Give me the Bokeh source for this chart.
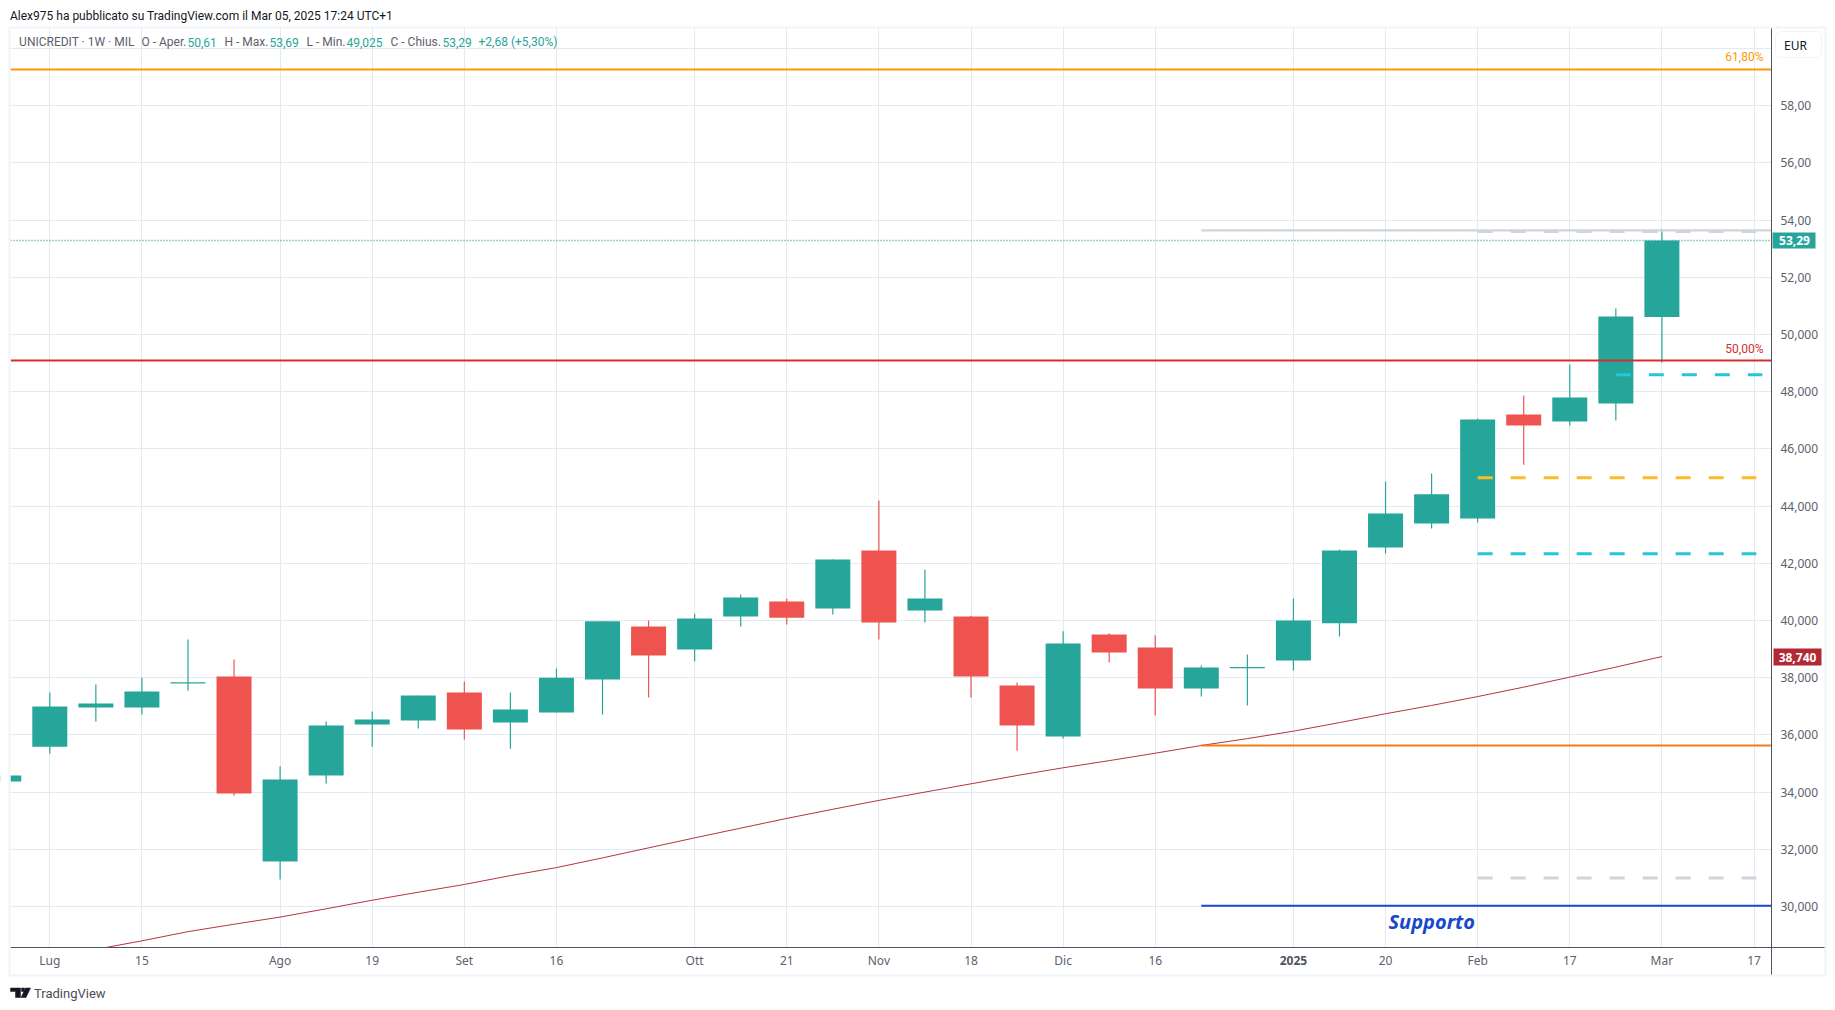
from bokeh.plotting import figure
from bokeh.embed import file_html
from bokeh.resources import INLINE
from bokeh.models import (ColumnDataSource, FixedTicker, Label, BoxAnnotation,
                          PolyAnnotation, Range1d)

# ---------- data ----------
opens  = [34.37,35.59,36.96,36.96,37.80,38.04,31.57,34.58,36.36,36.50,37.48,36.43,36.78,37.94,
          39.79,38.99,40.14,40.66,40.42,42.45,40.35,40.14,37.73,35.94,39.51,39.06,37.62,38.33,
          38.60,39.90,42.55,43.39,43.57,47.20,46.96,47.59,50.61]
closes = [34.58,36.99,37.10,37.52,37.84,33.95,34.44,36.33,36.54,37.38,36.19,36.89,38.00,39.97,
          38.78,40.07,40.80,40.10,42.13,39.93,40.77,38.04,36.33,39.20,38.88,37.62,38.36,38.37,
          40.00,42.45,43.74,44.41,47.03,46.82,47.80,50.63,53.29]
highs  = [34.58,37.48,37.76,38.00,39.34,38.64,34.90,36.47,36.82,37.38,37.87,37.48,38.32,39.97,
          40.00,40.24,40.91,40.77,42.13,44.20,41.78,40.17,37.83,39.62,39.55,39.48,38.43,38.81,
          40.77,42.48,44.86,45.14,47.06,47.87,48.95,50.91,53.69]
lows   = [34.37,35.35,36.47,36.71,37.55,33.88,30.94,34.30,35.59,36.22,35.84,35.52,36.78,36.71,
          37.31,38.57,39.79,39.86,40.21,39.34,39.93,37.31,35.45,35.87,38.53,36.68,37.34,37.03,
          38.25,39.44,42.34,43.22,43.43,45.45,46.82,46.99,49.025]
ma_line = [28.0,28.2,28.50,28.80,29.12,29.38,29.63,29.92,30.22,30.50,30.77,31.08,31.36,31.70,
           32.05,32.40,32.74,33.08,33.40,33.71,34.00,34.29,34.58,34.85,35.10,35.36,35.63,35.87,
           36.13,36.43,36.74,37.03,37.34,37.67,38.02,38.37,38.74]

x_tick_pos    = [1,3,6,8,10,12,15,17,19,21,23,25,30,32,34,36,38]
x_tick_labels = ["Lug","15","Ago","19","Set","16","Ott","21","Nov","18","Dic","16","20","Feb","17","Mar","17"]
year_tick_pos = 28
year_tick_label = "2025"
y_ticks = [30,32,34,36,38,40,42,44,46,48,50,52,54,56,58,60]
y_tick_labels = ["30,000","32,000","34,000","36,000","38,000","40,000","42,000","44,000","46,000",
                 "48,000","50,000","52,00","54,00","56,00","58,00",""]

fib_618 = 59.27
fib_500 = 49.09
resist_level = 53.64
support_level = 30.03
orange_level = 35.63
last_price = 53.29
ma_last = 38.74
dashed_levels = [53.60, 44.99, 42.33, 31.00, 48.59]
dashed_starts = [32, 32, 32, 32, 35]
dashed_ends   = [38.05, 38.05, 38.05, 38.05, 38.18]
dashed_colors = ["#d1d4dc", "#fbbc28", "#26c6da", "#d1d4dc", "#26c6da"]

GREEN, RED = "#26a69a", "#ef5350"
FONT = "Noto Sans"
HFONT = "Roboto"
PX0, PXS = 3.24, 46.06
def ix(px): return (px - PX0) / PXS
def vy(py): return 30 + (906 - py) / 28.6

W, H = 1830, 1005
L, T, R_, B = 10, 27, 1771, 947
p = figure(width=W, height=H, output_backend="svg", toolbar_location=None,
           x_range=Range1d(ix(0), ix(W)), y_range=Range1d(vy(H), vy(0)),
           y_axis_location="right", min_border=0, min_border_left=0, min_border_top=0,
           min_border_right=0, min_border_bottom=0)
p.outline_line_color = None
p.background_fill_color = "white"
p.border_fill_color = "white"

# axes and grids
all_ticks = sorted(x_tick_pos + [year_tick_pos])
p.xaxis.ticker = FixedTicker(ticks=all_ticks)
over = {a: b for a, b in zip(x_tick_pos, x_tick_labels)}
over[year_tick_pos] = ""
p.xaxis.major_label_overrides = over
p.yaxis.ticker = FixedTicker(ticks=y_ticks)
p.yaxis.major_label_overrides = dict(zip(y_ticks, y_tick_labels))
for ax in (p.xaxis[0], p.yaxis[0]):
    ax.level = "overlay"
    ax.major_tick_line_color = None
    ax.minor_tick_line_color = None
    ax.major_tick_out = 0
    ax.major_tick_in = 0
    ax.minor_tick_out = 0
    ax.axis_line_color = "#50535e"
    ax.axis_line_width = 1
    ax.major_label_text_color = "#5d606b"
    ax.major_label_text_font = FONT
    ax.major_label_text_font_size = "12px"
p.xaxis[0].fixed_location = vy(B)
p.yaxis[0].fixed_location = ix(R_)
p.xaxis[0].bounds = (ix(L), ix(1825))
p.yaxis[0].bounds = (vy(975), vy(T))
p.xaxis[0].major_label_standoff = 4
p.yaxis[0].major_label_standoff = 9
p.xgrid.ticker = FixedTicker(ticks=all_ticks)
p.ygrid.ticker = FixedTicker(ticks=y_ticks)
for g in (p.xgrid[0], p.ygrid[0]):
    g.grid_line_color = "#e2ebf1"
    g.grid_line_width = 1

# candles
idx = list(range(len(opens)))
colors = [GREEN if c >= o else RED for o, c in zip(opens, closes)]
src = ColumnDataSource(dict(x=idx, top=[max(a, b) for a, b in zip(opens, closes)],
                            bottom=[min(a, b) for a, b in zip(opens, closes)],
                            h=highs, l=lows, c=colors))
p.segment("x", "h", "x", "l", source=src, line_color="c", line_width=1.2)
p.vbar("x", width=35 / PXS, top="top", bottom="bottom", source=src,
       fill_color="c", line_color=None)

# moving average
p.line(idx, ma_line, line_color="#b22833", line_width=0.95)

# levels
x_l, x_r = ix(L), ix(R_)
p.line([x_l, x_r], [last_price, last_price], line_color=GREEN, line_width=1.5, line_dash=[1, 2])
p.line([x_l, x_r], [fib_618, fib_618], line_color="#ff9800", line_width=2)
p.line([x_l, x_r], [fib_500, fib_500], line_color="#d32f2f", line_width=2)
p.line([26, x_r], [resist_level, resist_level], line_color="#d1d4dc", line_width=2.2)
p.line([26, x_r], [orange_level, orange_level], line_color="#f57c17", line_width=2)
p.line([26, x_r], [support_level, support_level], line_color="#1848cc", line_width=2)
for lv, s, e, c in zip(dashed_levels, dashed_starts, dashed_ends, dashed_colors):
    p.line([s, e], [lv, lv], line_color=c, line_width=3, line_dash=[15, 18])

def txt(px, py, s, color="#5d606b", size="12px", align="left", style="normal", font=FONT):
    p.add_layout(Label(x=px, y=py, x_units="canvas", y_units="canvas", text=s, level="overlay",
                       text_color=color, text_font=font, text_font_size=size,
                       text_font_style=style, text_align=align, text_baseline="middle"))

def box(x0, y0, x1, y1, fill=None, line=None, lw=1, level="overlay", **kw):
    p.add_layout(BoxAnnotation(left=x0, right=x1, top=y0, bottom=y1,
                               left_units="canvas", right_units="canvas",
                               top_units="canvas", bottom_units="canvas",
                               fill_color=fill if fill else "white", fill_alpha=1 if fill else 0,
                               line_color=line if line else "white", line_width=lw,
                               line_alpha=1 if line else 0, level=level, **kw))

# white masks around the plot area, under the axes and the texts
box(0, 0, L, H, "white", level="annotation")
box(0, 0, W, T, "white", level="annotation")
box(R_, 0, W, H, "white", level="annotation")
box(0, B, W, H, "white", level="annotation")

# frame decoration
box(9, 27, 1825, 975, None, "#f0f3fa", 2)

# header
txt(9.5, 15, "Alex975 ha pubblicato su TradingView.com il Mar 05, 2025 17:24 UTC+1", "#131722",
    "12px", font=HFONT)
header = [(18.6, "UNICREDIT · 1W · MIL", 0), (141, "O - Aper.", 0), (187, "50,61", 1),
          (224, "H - Max.", 0), (269, "53,69", 1), (306, "L - Min.", 0), (346, "49,025", 1),
          (390, "C - Chius.", 0), (442, "53,29", 1), (478, "+2,68 (+5,30%)", 1)]
for hx, s, g in header:
    txt(hx, 41.7, s, GREEN if g else "#5d606b", "12px", font=HFONT)

# level labels
txt(1763, 56, "61,80%", "#ff9800", "12px", align="right", font=HFONT)
txt(1763, 348, "50,00%", "#d32f2f", "12px", align="right", font=HFONT)

# Supporto
p.add_layout(Label(x=ix(1388), y=support_level - 0.57, text="Supporto", text_color="#1848cc",
                   level="overlay", text_font=FONT, text_font_size="20px",
                   text_font_style="bold italic", text_baseline="middle"))

# bold year on the time axis
p.add_layout(Label(x=year_tick_pos, y=960, y_units="canvas", text=year_tick_label, level="overlay",
                   text_color="#50535e", text_font=FONT, text_font_size="12px",
                   text_font_style="bold", text_align="center", text_baseline="middle"))

# price tags
box(1772, 232, 1815, 248, GREEN)
txt(1794, 240.3, "53,29", "white", style="bold", align="center")
box(1773, 648, 1821, 665, "#b22833")
txt(1797, 656.5, "38,740", "white", style="bold", align="center")

# EUR button
box(1775, 31, 1821, 57, "white", "#f0f3fa", 1, border_radius=5)
txt(1795, 44.5, "EUR", "#131722", align="center")

# footer
def poly(xs, ys, color="#131722"):
    p.add_layout(PolyAnnotation(xs=xs, ys=ys, xs_units="canvas", ys_units="canvas", level="overlay",
                                fill_color=color, fill_alpha=1, line_color=color, line_alpha=1,
                                line_width=0.5))
poly([10, 20, 20, 15, 15, 10], [987.5, 987.5, 997, 997, 991, 991])
poly([21, 24, 24, 21], [987.5, 987.5, 991, 991])
poly([25, 30, 25.5, 20.5], [987.5, 987.5, 997, 997])
txt(33.5, 992.7, "TradingView", "#4a4d57", "13px", font=HFONT)

open("out.html", "w").write(file_html(p, INLINE))
